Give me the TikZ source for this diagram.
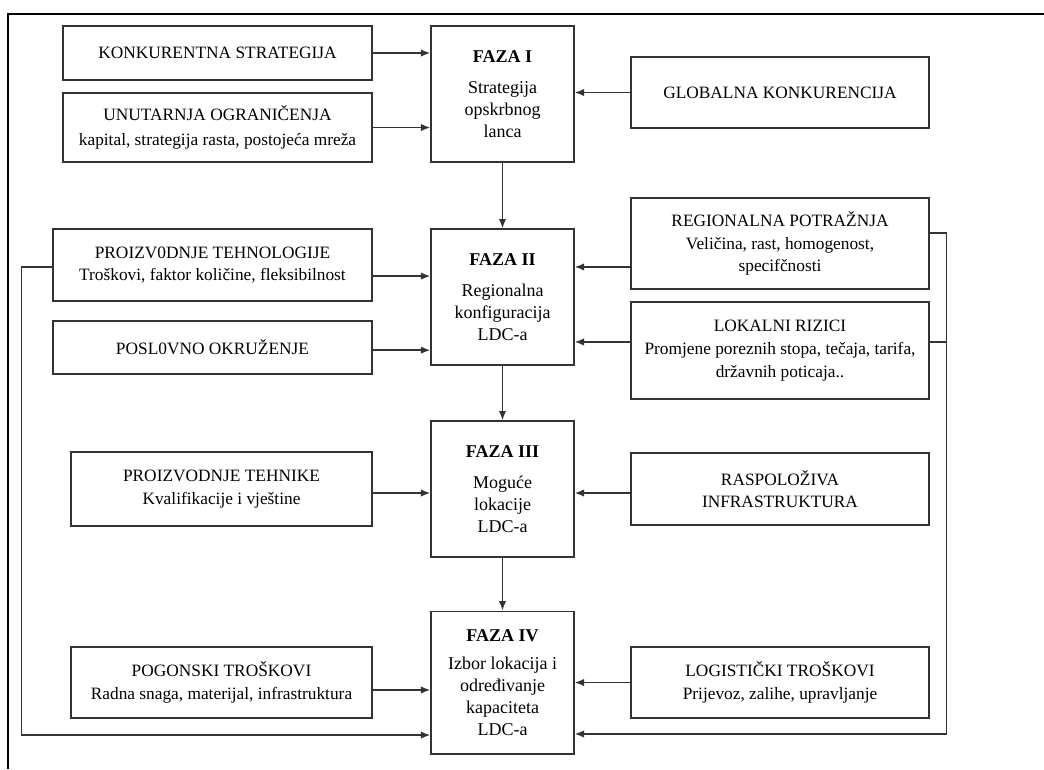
\documentclass[tikz,border=0pt]{standalone}
\usepackage{fontspec}
\setmainfont{Liberation Serif}
\usetikzlibrary{arrows.meta}

\tikzset{
  okvir/.style={draw=black!80, line width=1pt, align=center, inner sep=2pt,
    font=\fontsize{13}{17}\selectfont},
  faza/.style={okvir, minimum width=107.3pt, minimum height=102pt,
    font=\fontsize{13.5}{16.5}\selectfont},
  ulaz/.style={okvir, minimum width=231.8pt},
  izlaz/.style={okvir, minimum width=223.5pt},
  veza/.style={draw=black!80, line width=1.1pt},
  arr/.style={veza, -{Latex[length=7pt, width=5.5pt]}}
}

\begin{document}
\begin{tikzpicture}[x=0.75pt, y=-0.75pt]
    \useasboundingbox (0,0) rectangle (1044,769);
    % Rahmen
    \draw[line width=1.6pt] (8,769) -- (8,14) -- (1044,14);

    % Faze u sredini
    \node[faza] (f1) at (502.5,94) {\textbf{FAZA I}\\[7pt]Strategija\\opskrbnog\\lanca};
    \node[faza] (f2) at (502.5,297) {\textbf{FAZA II}\\[7pt]Regionalna\\konfiguracija\\LDC-a};
    \node[faza] (f3) at (502.5,489) {\textbf{FAZA III}\\[7pt]Moguće\\lokacije\\LDC-a};
    \node[faza, minimum height=107pt] (f4) at (502.5,682.5) {\textbf{FAZA IV}\\[5pt]Izbor lokacija i\\određivanje\\kapaciteta\\LDC-a};

    % Lijevi ulazi
    \node[ulaz, minimum height=40.5pt] (konk) at (217.5,53) {KONKURENTNA STRATEGIJA};
    \node[ulaz, minimum height=51.8pt] (unut) at (217.5,127.5) {UNUTARNJA OGRANIČENJA\\[2pt]kapital, strategija rasta, postojeća mreža};
    \node[ulaz, minimum width=239.3pt, minimum height=54pt] (tech) at (212.5,265) {PROIZV0DNJE TEHNOLOGIJE\\Troškovi, faktor količine, fleksibilnost};
    \node[ulaz, minimum width=239.3pt, minimum height=39.8pt] (posl) at (212.5,347.5) {POSL0VNO OKRUŽENJE};
    \node[ulaz, minimum width=225.8pt, minimum height=55.5pt] (tehn) at (221.5,489) {PROIZVODNJE TEHNIKE\\Kvalifikacije  i vještine};
    \node[ulaz, minimum width=225.8pt, minimum height=53.3pt] (pogon) at (221.5,682.5) {POGONSKI TROŠKOVI\\Radna snaga, materijal,  infrastruktura};

    % Desni ulazi
    \node[izlaz, minimum height=53.3pt] (glob) at (780,92.5) {GLOBALNA KONKURENCIJA};
    \node[izlaz, minimum height=68.3pt] (regp) at (780,243.5) {REGIONALNA POTRAŽNJA\\Veličina, rast, homogenost,\\specifčnosti};
    \node[izlaz, minimum height=72.8pt] (lokr) at (780,350.5) {LOKALNI RIZICI\\Promjene poreznih stopa, tečaja, tarifa,\\državnih poticaja..};
    \node[izlaz, minimum height=54pt] (rasp) at (780,489) {RASPOLOŽIVA\\INFRASTRUKTURA};
    \node[izlaz, minimum height=53.3pt] (logis) at (780,682.5) {LOGISTIČKI TROŠKOVI\\Prijevoz, zalihe, upravljanje};

    % Strelice prema fazama
    \draw[arr] (konk.east) -- (konk.east -| f1.west);
    \draw[arr] (unut.east) -- (unut.east -| f1.west);
    \draw[arr] (glob.west) -- (glob.west -| f1.east);
    \draw[arr] ([yshift=-8.3pt]tech.east) -- ([yshift=-8.3pt]tech.east -| f2.west);
    \draw[arr] ([yshift=-2pt]posl.east) -- ([yshift=-2pt]posl.east -| f2.west);
    \draw[arr] ([yshift=-17.6pt]regp.west) -- ([yshift=-17.6pt]regp.west -| f2.east);
    \draw[arr] ([yshift=6.4pt]lokr.west) -- ([yshift=6.4pt]lokr.west -| f2.east);
    \draw[arr] ([yshift=-3pt]tehn.east) -- ([yshift=-3pt]tehn.east -| f3.west);
    \draw[arr] ([yshift=-3pt]rasp.west) -- ([yshift=-3pt]rasp.west -| f3.east);
    \draw[arr] ([yshift=-5.6pt]pogon.east) -- ([yshift=-5.6pt]pogon.east -| f4.west);
    \draw[arr] (logis.west) -- (logis.west -| f4.east);

    % Tok faza
    \draw[arr] (f1.south) -- (f2.north);
    \draw[arr] (f2.south) -- (f3.north);
    \draw[arr] (f3.south) -- (f4.north);

    % Povratne veze
    \draw[arr] ([yshift=-1.5pt]tech.west) -- ++(-31,0) |- ([yshift=-39.4pt]f4.west);
    \draw[arr] ([yshift=7.9pt]regp.east) -- ++(17,0) |- ([yshift=-38.6pt]f4.east);
    \draw[veza] ([yshift=6.4pt]lokr.east) -- ++(17,0);
\end{tikzpicture}
\end{document}
